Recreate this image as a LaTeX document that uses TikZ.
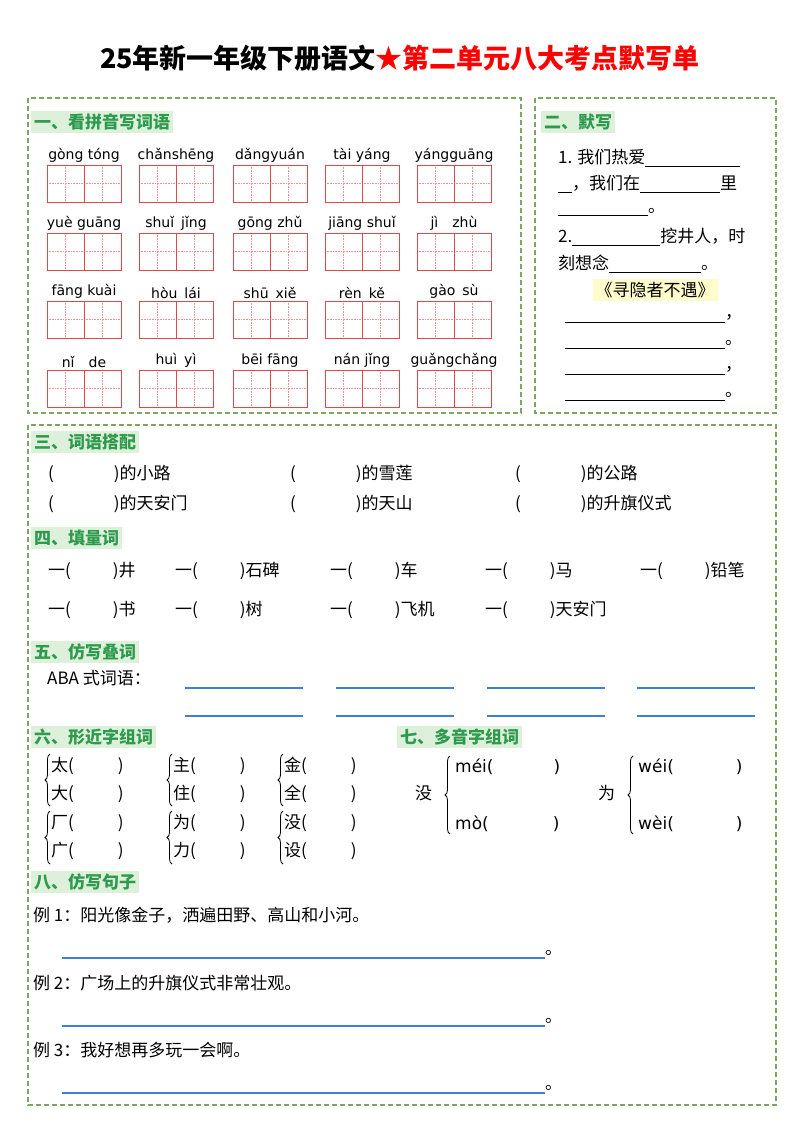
\documentclass[tikz,border=0pt]{standalone}
\usepackage{fontspec}
\setmainfont{Noto Sans CJK SC}
\newfontfamily\pyfont{DejaVu Sans}
\usetikzlibrary{decorations.pathreplacing}
\definecolor{frame}{HTML}{7FA561}
\definecolor{head}{HTML}{2E9A4E}
\definecolor{headbg}{HTML}{DDF0DA}
\definecolor{gridred}{HTML}{E0474C}
\definecolor{lineblue}{HTML}{3F7FD6}
\tikzset{
  box/.style={draw=frame, line width=1.3pt, dash pattern=on 5pt off 3pt},
  header/.style={fill=headbg, text=head, font=\fontsize{17}{19}\selectfont\bfseries, anchor=west, inner sep=3pt},
  txt/.style={font=\fontsize{17}{19}\selectfont, anchor=west, inner sep=0pt},
  py/.style={font=\pyfont\fontsize{14}{16}\selectfont, inner sep=0pt},
  bl/.style={draw=lineblue, line width=1.3pt},
  ul/.style={draw=black, line width=0.8pt},
  cbrace/.style={decorate, decoration={brace, amplitude=5pt}, line width=0.8pt}
}
\newcommand{\blank}[1]{\rule[-3pt]{#1}{0.8pt}}
\newcommand{\tianzi}[3]{% name, x, y (top left)
  \draw[gridred!60, densely dotted, line width=0.6pt] (#2+18.5,#3) -- (#2+18.5,#3+37) (#2,#3+18.5) -- (#2+37,#3+18.5);
  \draw[gridred, line width=1pt] (#2,#3) rectangle (#2+37,#3+37);
  \coordinate (#1) at (#2+18.5,#3);
}
\begin{document}
\begin{tikzpicture}[x=1pt,y=-1pt]
\useasboundingbox[fill=white] (0,0) rectangle (800,1130);
% title
\node (title) at (400,58) {\fontsize{27}{30}\selectfont\bfseries 25年新一年级下册语文\textcolor{red}{★第二单元八大考点默写单}};
% frames
\draw[box] (28,98) rectangle (521,413);
\draw[box] (535,98) rectangle (776,413);
\draw[box] (28,425) rectangle (776,1105);
% one: pinyin grid
\node[header] (h1) at (31,122) {一、看拼音写词语};
\foreach \r/\y/\pa/\pb/\pc/\pd/\pe in {
  1/165/{gòng tóng}/{chǎnshēng}/{dǎngyuán}/{tài yáng}/{yángguāng},
  2/233/{yuè guāng}/{shuǐ\enspace jǐng}/{gōng zhǔ}/{jiāng shuǐ}/{jì\quad zhù},
  3/301/{fāng kuài}/{hòu\enspace lái}/{shū\enspace xiě}/{rèn\enspace kě}/{gào\enspace sù},
  4/370/{nǐ\quad de}/{huì\enspace yì}/{bēi fāng}/{nán jǐng}/{guǎngchǎng}}{
  \foreach \c/\x/\p in {1/47/\pa,2/139/\pb,3/233/\pc,4/325/\pd,5/417/\pe}{
    \tianzi{a\r\c}{\x}{\y}
    \tianzi{b\r\c}{\x+37}{\y}
    \node[py, anchor=south] (py\r\c) at (\x+37,\y-2) {\p};
  }
}
% two
\node[header] (h2) at (541,122) {二、默写};
\node[txt] (m1) at (558,158) {1. 我们热爱\blank{95pt}};
\node[txt] (m2) at (558,184) {\blank{14pt}，我们在\blank{80pt}里};
\node[txt] (m3) at (558,212) {\blank{90pt}。};
\node[txt] (m4) at (558,237) {2.\blank{88pt}挖井人，时};
\node[txt] (m5) at (558,264) {刻想念\blank{92pt}。};
\node[fill=yellow!20, inner sep=3pt, font=\fontsize{17}{19}\selectfont] (poem) at (655,290) {《寻隐者不遇》};
\foreach \i/\y/\pn in {1/322/，,2/348/。,3/374/，,4/400/。}{
  \draw[ul] (565,\y) -- (725,\y);
  \node[txt] (pe\i) at (725,\y-5) {\pn};
}
% three
\node[header] (h3) at (31,442) {三、词语搭配};
\foreach \i/\x/\y/\w in {1/48/474/的小路,2/290/474/的雪莲,3/515/474/的公路,4/48/504/的天安门,5/290/504/的天山,6/515/504/的升旗仪式}{
  \node[txt] (da\i) at (\x,\y) {(\hspace{60pt})\w};
}
% four
\node[header] (h4) at (31,538) {四、填量词};
\foreach \i/\x/\y/\w in {1/48/571/井,2/175/571/石碑,3/330/571/车,4/485/571/马,5/640/571/铅笔,6/48/610/书,7/175/610/树,8/330/610/飞机,9/485/610/天安门}{
  \node[txt] (la\i) at (\x,\y) {一(\hspace{42pt})\w};
}
% five
\node[header] (h5) at (31,652) {五、仿写叠词};
\node[txt] (aba) at (47,678) {ABA 式词语：};
\foreach \x in {185,336,487,637}{
  \draw[bl] (\x,688) -- (\x+118,688);
  \draw[bl] (\x,716) -- (\x+118,716);
}
% six
\node[header] (h6) at (31,737) {六、形近字组词};
\foreach \x/\a/\b/\c/\d in {42/太/大/厂/广,164/主/住/为/力,275/金/全/没/设}{
  \draw[cbrace] (\x+8,806) -- (\x+8,754);
  \draw[cbrace] (\x+8,864) -- (\x+8,811);
  \foreach \y/\ch in {766/\a,794/\b,823/\c,851/\d}{
    \node[txt] at (\x+9,\y) {\ch(\hspace{44pt})};
  }
}
% seven
\node[header] (h7) at (397,737) {七、多音字组词};
\node[txt] (mei0) at (415,793) {没};
\draw[cbrace] (450,834) -- (450,756);
\node[txt] (mei1) at (455,767) {\pyfont méi(\hspace{60pt})};
\node[txt] (mei2) at (455,824) {\pyfont mò(\hspace{64pt})};
\node[txt] (wei0) at (598,793) {为};
\draw[cbrace] (633,834) -- (633,756);
\node[txt] (wei1) at (638,767) {\pyfont wéi(\hspace{62pt})};
\node[txt] (wei2) at (638,824) {\pyfont wèi(\hspace{62pt})};
% eight
\node[header] (h8) at (31,882) {八、仿写句子};
\foreach \i/\y/\s in {1/915/阳光像金子，洒遍田野、高山和小河。,2/983/广场上的升旗仪式非常壮观。,3/1050/我好想再多玩一会啊。}{
  \node[txt] (li\i) at (33,\y) {例 \i：\s};
  \draw[bl] (62,\y+43) -- (545,\y+43);
  \node[txt] (end\i) at (545,\y+38) {。};
}
\end{tikzpicture}
\end{document}
